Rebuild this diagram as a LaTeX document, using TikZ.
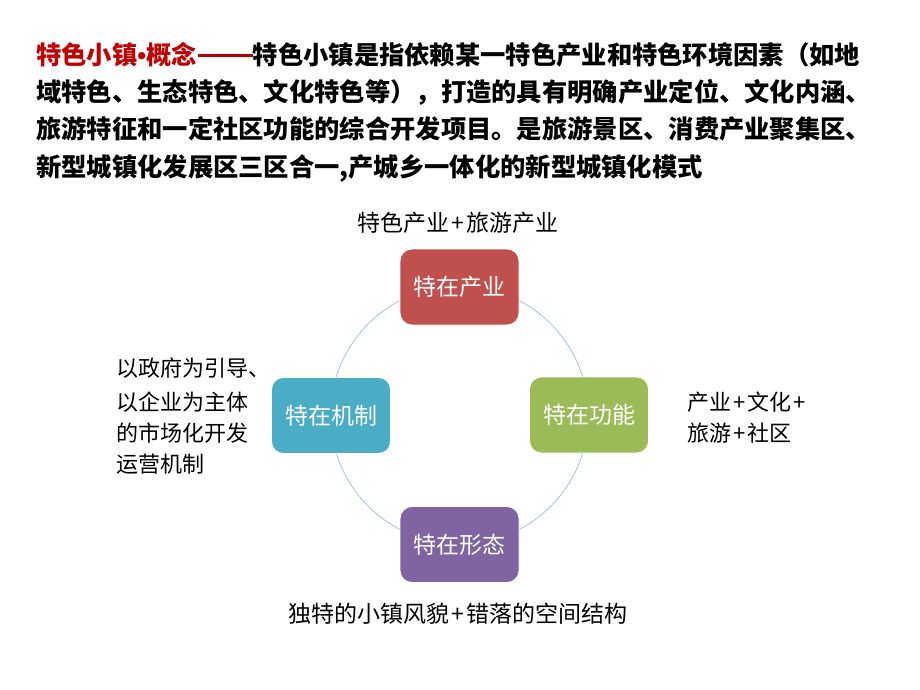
\documentclass[tikz,border=0pt]{standalone}
\usepackage{fontspec}
\newfontfamily\cjk{Noto Sans CJK SC}
\newfontfamily\lat{Liberation Sans}
\definecolor{tred}{HTML}{C00000}
\definecolor{bred}{HTML}{C0504D}
\definecolor{bteal}{HTML}{4BACC6}
\definecolor{bgreen}{HTML}{9BBB59}
\definecolor{bpurple}{HTML}{8064A2}
\definecolor{ringblue}{HTML}{9DC3E6}
\newcommand{\pl}{\kern2pt+\kern2pt}
\begin{document}
\begin{tikzpicture}[x=1pt,y=-1pt,
  titleline/.style={anchor=base west,inner sep=0pt,font=\cjk\bfseries\fontsize{25.3}{30}\selectfont},
  label/.style={inner sep=0pt,font=\cjk\fontsize{22}{26}\selectfont},
  biglabel/.style={inner sep=0pt,font=\cjk\fontsize{23}{27}\selectfont},
  box/.style={draw=white,line width=0.8pt,rounded corners=12pt,minimum width=119pt,minimum height=76pt,inner sep=0pt,text=white,font=\cjk\fontsize{23}{27}\selectfont}]
\useasboundingbox[fill=white] (0,0) rectangle (920,690);
% title
\node[titleline] (t1) at (36,64.5) {{\color{tred}特色小镇{\lat\bfseries •}概念\kern1pt\rule[7.8pt]{55pt}{2.2pt}}特色小镇是指依赖某一特色产业和特色环境因素（如地};
\node[titleline] (t2) at (36,102) {域特色、生态特色、文化特色等），打造的具有明确产业定位、文化内涵、};
\node[titleline] (t3) at (36,139) {旅游特征和一定社区功能的综合开发项目。是旅游景区、消费产业聚集区、};
\node[titleline] (t4) at (36,176) {新型城镇化发展区三区合一,产城乡一体化的新型城镇化模式};
% ring
\coordinate (c) at (459.5,415);
\draw[ringblue,line width=0.8pt] (c) circle[radius=129];
% boxes
\node[box,fill=bred] (top) at (459.5,287) {特在产业};
\node[box,fill=bteal] (left) at (331,415.5) {特在机制};
\node[box,fill=bgreen] (right) at (589,415) {特在功能};
\node[box,fill=bpurple] (bottom) at (459.5,544.5) {特在形态};
% labels
\node[biglabel,anchor=base] (lt) at (458,231.5) {特色产业\pl 旅游产业};
\node[label,anchor=base west] (ll1) at (116,376) {以政府为引导、};
\node[label,anchor=base west] (ll2) at (116,410) {以企业为主体};
\node[label,anchor=base west] (ll3) at (116,441) {的市场化开发};
\node[label,anchor=base west] (ll4) at (116,472) {运营机制};
\node[label,anchor=base west] (lr1) at (687,410) {产业\pl 文化\pl};
\node[label,anchor=base west] (lr2) at (687,441) {旅游\pl 社区};
\node[biglabel,anchor=base] (lb) at (458,622) {独特的小镇风貌\pl 错落的空间结构};
\end{tikzpicture}
\end{document}
